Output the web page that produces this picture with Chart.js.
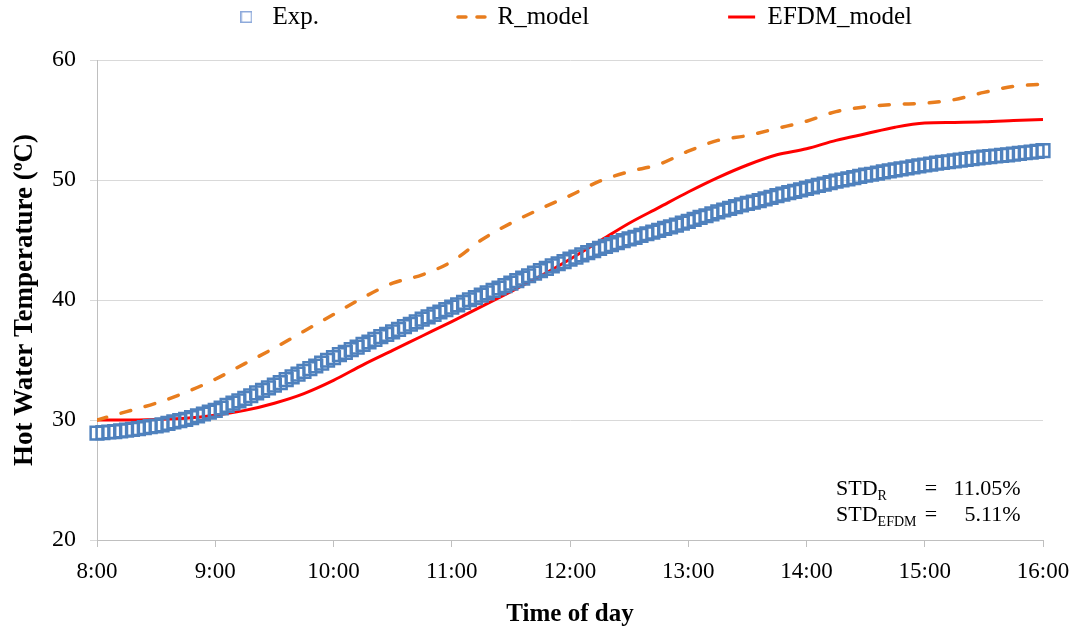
<!DOCTYPE html>
<html>
<head>
<meta charset="utf-8">
<script src="https://cdn.jsdelivr.net/npm/chart.js@4.4.1/dist/chart.umd.min.js"></script>
<style>
  html, body { margin: 0; padding: 0; background: #fff; }
  #wrap { width: 1083px; height: 637px; }
</style>
</head>
<body>
<div id="wrap"><canvas id="chart" width="1083" height="637"></canvas></div>
<script>
// measured hot water temperature, one reading every 3 minutes from 8:00 to 16:00
const expStepHours = 0.05;
const expTemp = [
  28.90, 28.94, 29.00, 29.04, 29.10, 29.16, 29.22, 29.28, 29.36, 29.44,
  29.50, 29.60, 29.72, 29.84, 29.94, 30.06, 30.20, 30.34, 30.50, 30.66,
  30.80, 31.00, 31.22, 31.40, 31.60, 31.80, 32.02, 32.26, 32.46, 32.68,
  32.90, 33.12, 33.36, 33.60, 33.82, 34.05, 34.28, 34.50, 34.74, 34.98,
  35.20, 35.44, 35.64, 35.86, 36.08, 36.30, 36.50, 36.72, 36.94, 37.14,
  37.35, 37.56, 37.78, 37.98, 38.18, 38.40, 38.60, 38.80, 39.00, 39.20,
  39.40, 39.60, 39.80, 40.02, 40.20, 40.40, 40.60, 40.80, 41.00, 41.20,
  41.40, 41.62, 41.82, 42.02, 42.24, 42.45, 42.64, 42.84, 43.02, 43.20,
  43.40, 43.58, 43.76, 43.94, 44.12, 44.30, 44.46, 44.62, 44.78, 44.94,
  45.10, 45.22, 45.38, 45.52, 45.66, 45.80, 45.96, 46.10, 46.24, 46.40,
  46.55, 46.72, 46.88, 47.02, 47.18, 47.35, 47.50, 47.64, 47.78, 47.92,
  48.05, 48.16, 48.28, 48.42, 48.56, 48.70, 48.82, 48.94, 49.06, 49.18,
  49.30, 49.42, 49.56, 49.66, 49.78, 49.90, 50.00, 50.10, 50.20, 50.30,
  50.40, 50.48, 50.58, 50.68, 50.76, 50.85, 50.92, 51.00, 51.10, 51.18,
  51.25, 51.32, 51.40, 51.46, 51.52, 51.60, 51.66, 51.72, 51.78, 51.84,
  51.90, 51.95, 52.00, 52.06, 52.10, 52.15, 52.21, 52.27, 52.33, 52.39,
  52.45
];

// model curves, every 15 minutes
const modelTimes = [8, 8.25, 8.5, 8.75, 9, 9.25, 9.5, 9.75, 10, 10.25, 10.5, 10.75,
  11, 11.25, 11.5, 11.75, 12, 12.25, 12.5, 12.75, 13, 13.25, 13.5, 13.75,
  14, 14.25, 14.5, 14.75, 15, 15.25, 15.5, 15.75, 16];
const rModel = [30.0, 30.7, 31.4, 32.3, 33.4, 34.7, 36.0, 37.4, 38.8, 40.2, 41.4, 42.1,
  43.2, 45.0, 46.4, 47.6, 48.7, 49.9, 50.7, 51.3, 52.4, 53.3, 53.7, 54.3,
  54.9, 55.7, 56.1, 56.3, 56.4, 56.7, 57.3, 57.8, 58.0];
const efdmModel = [30.0, 30.0, 30.05, 30.15, 30.4, 30.8, 31.4, 32.2, 33.3, 34.6, 35.8, 37.0,
  38.2, 39.45, 40.7, 42.0, 43.4, 44.9, 46.4, 47.7, 49.0, 50.2, 51.25, 52.1,
  52.6, 53.3, 53.85, 54.4, 54.75, 54.8, 54.85, 54.95, 55.05];

const seriesNames = ['Exp.', 'R_model', 'EFDM_model'];
const stdNames = ['R', 'EFDM'];
const stdValues = ['11.05%', '5.11%'];

const serif = '"Liberation Serif", "Times New Roman", serif';
const legendFont = 25;
const legendPad = 139;

// small hollow square for the Exp. legend entry
const expIcon = document.createElement('canvas');
expIcon.width = 12; expIcon.height = 12;
(function () {
  const c = expIcon.getContext('2d');
  c.strokeStyle = '#8eaadb';
  c.lineWidth = 1.5;
  c.strokeRect(0.75, 0.75, 10.5, 10.5);
})();

const pts = (xs, ys) => ys.map((v, i) => ({ x: xs[i], y: v }));
const expPoints = expTemp.map((v, i) => ({ x: 8 + i * expStepHours, y: v }));

// the legend is spread wide in the original, keep its height small and move it up
const legendLayout = {
  id: 'legendLayout',
  beforeInit(chart) {
    const lg = chart.legend;
    const fit = lg.fit;
    lg.fit = function () { fit.call(this); this.height = 60; };
  },
  afterLayout(chart) {
    const lg = chart.legend;
    lg.top = 17 - legendFont / 2 - legendPad;
    lg.left = 31;
    lg.right = 1083 + 31;
  }
};

const stdNote = {
  id: 'stdNote',
  afterDraw(chart) {
    const { ctx, scales: { x, y } } = chart;
    const rows = [23.75, 21.6];
    ctx.save();
    ctx.fillStyle = '#000';
    ctx.textBaseline = 'alphabetic';
    rows.forEach((val, i) => {
      const base = y.getPixelForValue(val);
      let left = x.getPixelForValue(14.25);
      ctx.font = '22px ' + serif;
      ctx.textAlign = 'left';
      ctx.fillText('STD', left, base);
      left += ctx.measureText('STD').width;
      ctx.font = '14px ' + serif;
      ctx.fillText(stdNames[i], left, base + 5);
      ctx.font = '22px ' + serif;
      ctx.fillText('=', x.getPixelForValue(15.0), base);
      ctx.textAlign = 'right';
      ctx.fillText(stdValues[i], x.getPixelForValue(15.81), base);
    });
    ctx.restore();
  }
};

new Chart(document.getElementById('chart'), {
  type: 'line',
  data: {
    datasets: [{
      label: seriesNames[0],
      data: expPoints,
      showLine: false,
      pointStyle: 'rect',
      pointRadius: 9,
      pointBorderWidth: 2.5,
      borderColor: '#4f81bd',
      backgroundColor: 'rgba(255,255,255,0)',
      clip: false
    }, {
      label: seriesNames[1],
      data: pts(modelTimes, rModel),
      borderColor: '#e87d1e',
      backgroundColor: '#e87d1e',
      borderWidth: 3.5,
      borderDash: [10, 15],
      borderCapStyle: 'round',
      pointRadius: 0,
      pointStyle: 'line',
      cubicInterpolationMode: 'monotone'
    }, {
      label: seriesNames[2],
      data: pts(modelTimes, efdmModel),
      borderColor: '#ff0000',
      backgroundColor: '#ff0000',
      borderWidth: 3,
      pointRadius: 0,
      pointStyle: 'line',
      cubicInterpolationMode: 'monotone'
    }]
  },
  options: {
    responsive: false,
    animation: false,
    layout: { padding: { left: 0, right: 40, top: 0, bottom: 0 } },
    plugins: {
      tooltip: { enabled: false },
      legend: {
        position: 'top',
        labels: {
          usePointStyle: true,
          pointStyleWidth: 27,
          padding: legendPad,
          color: '#000',
          font: { family: serif, size: legendFont },
          generateLabels(chart) {
            const items = Chart.defaults.plugins.legend.labels.generateLabels(chart);
            items[0].pointStyle = expIcon;
            items[1].lineDash = [8, 11];
            items[1].lineCap = 'round';
            return items;
          }
        }
      }
    },
    scales: {
      x: {
        type: 'linear',
        min: 8,
        max: 16,
        afterFit(scale) { scale.height = 97; },
        ticks: {
          stepSize: 1,
          padding: 11,
          color: '#000',
          font: { family: serif, size: 23 },
          callback: v => v + ':00'
        },
        grid: { drawOnChartArea: false, drawTicks: true, tickLength: 7, color: '#bfbfbf' },
        border: { color: '#bfbfbf' },
        title: {
          display: true,
          text: 'Time of day',
          color: '#000',
          font: { family: serif, size: 25, weight: 'bold' },
          padding: { top: 0, bottom: 7 }
        }
      },
      y: {
        min: 20,
        max: 60,
        afterFit(scale) { scale.width = 97; },
        ticks: {
          stepSize: 10,
          padding: 14,
          color: '#000',
          font: { family: serif, size: 24 }
        },
        grid: { color: '#d9d9d9', tickLength: 7 },
        border: { color: '#bfbfbf' },
        title: {
          display: true,
          text: 'Hot Water Temperature (ºC)',
          color: '#000',
          font: { family: serif, size: 27, weight: 'bold' },
          padding: { top: 9, bottom: 0 }
        }
      }
    }
  },
  plugins: [legendLayout, stdNote]
});
</script>
</body>
</html>
